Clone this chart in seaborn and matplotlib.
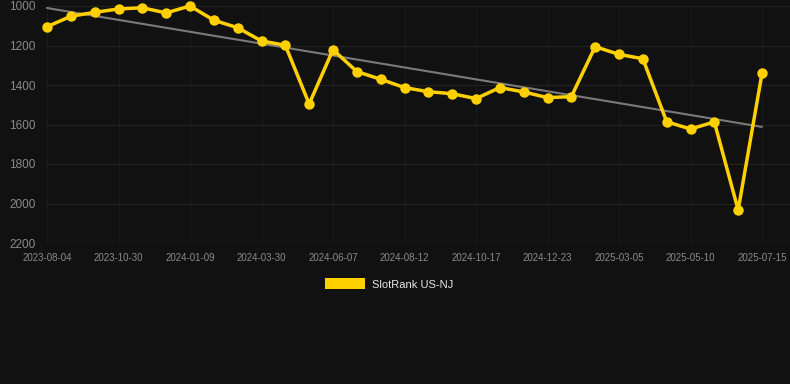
import numpy as np
import pandas as pd
import matplotlib
matplotlib.use("Agg")
import matplotlib.pyplot as plt
import matplotlib.patches as mpatches
import seaborn as sns

dates = ["2023-08-04", "2023-08-31", "2023-10-03", "2023-10-30", "2023-11-22", "2023-12-16",
         "2024-01-09", "2024-02-04", "2024-03-05", "2024-03-30", "2024-04-22", "2024-05-15",
         "2024-06-07", "2024-06-30", "2024-07-22", "2024-08-12", "2024-09-03", "2024-09-25",
         "2024-10-17", "2024-11-08", "2024-12-01", "2024-12-23", "2025-01-14", "2025-02-09",
         "2025-03-05", "2025-03-24", "2025-04-17", "2025-05-10", "2025-06-01", "2025-06-23",
         "2025-07-15"]
ranks = [1105, 1052, 1032, 1015, 1009, 1035, 1000, 1072, 1110, 1177, 1199, 1496,
         1221, 1332, 1371, 1413, 1434, 1444, 1469, 1413, 1435, 1464, 1459, 1206,
         1245, 1267, 1586, 1623, 1587, 2033, 1341]
series_name = "SlotRank US-NJ"
yticks = [1000, 1200, 1400, 1600, 1800, 2000, 2200]

df = pd.DataFrame({"pos": np.arange(len(dates)), "date": dates, "rank": ranks})

bg = "#111111"
sns.set_theme(style="dark")
plt.rcParams["font.family"] = ["Liberation Sans", "DejaVu Sans"]

fig = plt.figure(figsize=(7.9, 3.84), dpi=100, facecolor=bg)
left_px, right_px = 47, 790
ax = fig.add_axes([left_px / 790, 1 - 243 / 384, (right_px - left_px) / 790, (243 - 6) / 384])
ax.set_facecolor(bg)

sns.regplot(data=df, x="pos", y="rank", ax=ax, scatter=False, ci=None, truncate=True,
            line_kws=dict(color="#7a7a7a", lw=1.5, zorder=2))
sns.lineplot(data=df, x="pos", y="rank", ax=ax, color="#FFD000", lw=2.5, marker="o",
             markersize=7.5, markeredgewidth=0, zorder=3, clip_on=False)
for l in ax.lines:
    l.set_clip_on(False)

n = len(dates) - 1
unit = (762 - 47) / n
ax.set_xlim(0, n + (right_px - 762) / unit)
ax.set_ylim(2200, 1000)
ax.set_yticks(yticks)
ax.set_yticklabels([str(v) for v in yticks])
tick_pos = list(range(0, len(dates), 3))
ax.set_xticks(tick_pos)
ax.set_xticklabels([dates[i] for i in tick_pos])
ax.tick_params(axis="y", colors="#8a8a8a", labelsize=8.5, length=0, pad=8)
ax.tick_params(axis="x", colors="#8a8a8a", labelsize=7, length=0, pad=7)
ax.grid(True, axis="y", color="#232323", lw=0.8)
ax.grid(True, axis="x", color="#1b1b1b", lw=0.8)
ax.set_axisbelow(True)
for s in ax.spines.values():
    s.set_visible(False)
ax.axhline(2200, color="#2e2e2e", lw=1, zorder=1)
ax.set_xlabel("")
ax.set_ylabel("")

handle = mpatches.Rectangle((0, 0), 1, 1, facecolor="#FFD000", edgecolor="none")
fig.legend([handle], [series_name], loc="center", bbox_to_anchor=(389 / 790, 1 - 284 / 384),
           frameon=False, handlelength=3.6, handleheight=1.1, handletextpad=0.6,
           fontsize=8, labelcolor="#e6e6e6")

fig.savefig("out.png", dpi=100, facecolor=bg)
